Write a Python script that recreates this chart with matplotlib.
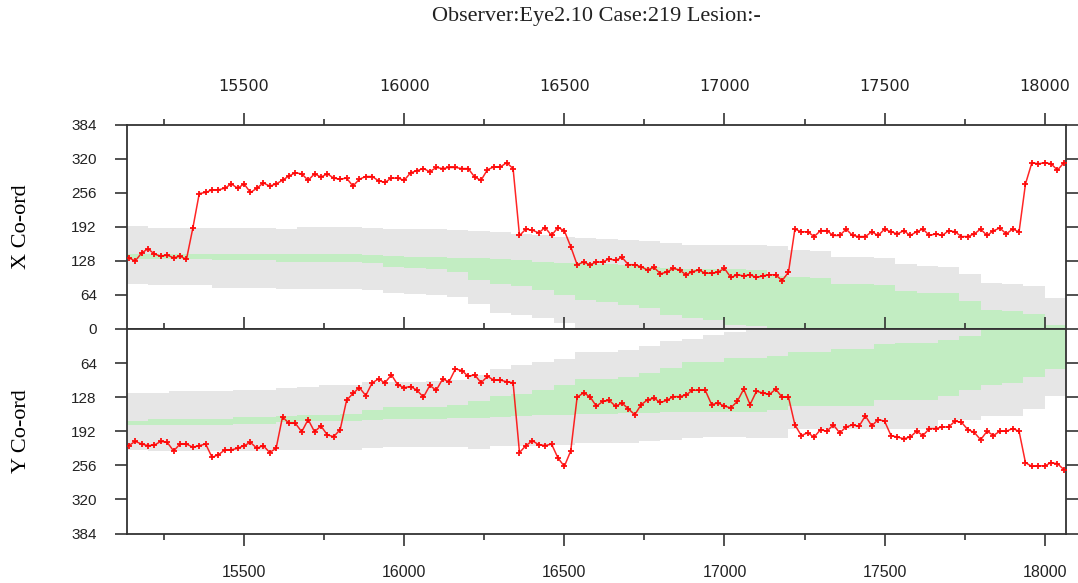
import numpy as np
import matplotlib
matplotlib.use('Agg')
import matplotlib.pyplot as plt
from matplotlib.ticker import MultipleLocator

# gaze samples, one every 20 ms
sample_start = 15140
sample_step = 20
x_coord = [134, 128, 143, 151, 141, 137, 139, 134, 137, 131,
           190, 255, 257, 262, 262, 265, 273, 265, 273, 257,
           265, 275, 269, 273, 280, 288, 294, 292, 280, 292,
           286, 292, 284, 282, 284, 269, 282, 287, 287, 279,
           276, 284, 284, 280, 294, 298, 302, 296, 304, 302,
           304, 304, 302, 302, 286, 280, 300, 305, 305, 313,
           302, 176, 188, 186, 181, 191, 176, 191, 185, 155,
           121, 126, 121, 126, 126, 132, 129, 135, 121, 121,
           117, 111, 116, 104, 107, 114, 111, 102, 108, 111,
           105, 105, 107, 114, 97, 102, 100, 102, 97, 100,
           102, 102, 91, 107, 188, 183, 183, 174, 185, 185,
           176, 176, 188, 176, 174, 174, 183, 176, 188, 183,
           179, 185, 176, 183, 188, 176, 179, 176, 185, 183,
           174, 174, 179, 188, 176, 185, 190, 179, 188, 183,
           273, 313, 311, 313, 311, 299, 313]
y_coord = [219, 211, 216, 219, 218, 211, 213, 229, 216, 216,
           222, 219, 216, 241, 236, 227, 227, 224, 219, 213,
           224, 219, 232, 224, 165, 177, 177, 193, 170, 193,
           182, 199, 202, 189, 134, 121, 110, 125, 101, 94,
           101, 86, 105, 110, 108, 115, 128, 106, 115, 94,
           99, 75, 78, 89, 86, 101, 89, 96, 96, 99,
           101, 232, 219, 210, 217, 219, 216, 242, 258, 229,
           128, 120, 127, 145, 136, 134, 145, 139, 150, 161,
           142, 133, 130, 138, 134, 127, 127, 124, 115, 115,
           115, 142, 139, 145, 148, 136, 113, 142, 117, 120,
           123, 113, 128, 128, 180, 200, 195, 203, 189, 192,
           180, 195, 184, 180, 183, 163, 182, 170, 173, 200,
           203, 206, 203, 192, 200, 187, 187, 184, 184, 173,
           175, 189, 194, 208, 192, 200, 192, 192, 187, 192,
           251, 258, 257, 257, 251, 253, 264]

# expected region per video frame (frames 227..270, 15 frames/s)
first_frame = 227
frame_ms = 200 / 3
x_grey_lo = [85, 82, 82, 82, 78, 78, 78, 76, 76, 76, 76, 73, 68, 65, 64,
             61, 47, 31, 27, 20, 11, 0, 0, 0, 0, 0, 0, 0, 0, 0,
             0, 0, 0, 0, 0, 0, 0, 0, 0, 0, 0, 0, 0, 0]
x_grey_hi = [194, 191, 191, 191, 190, 190, 190, 189, 192, 192, 192, 190, 188, 189, 189,
             187, 184, 182, 179, 177, 174, 172, 169, 167, 165, 161, 159, 159, 159, 158,
             156, 149, 146, 136, 136, 133, 122, 119, 116, 103, 87, 85, 80, 58]
x_green_lo = [132, 132, 132, 132, 130, 130, 130, 127, 127, 127, 127, 124, 116, 114, 113,
              108, 92, 84, 80, 74, 64, 54, 51, 46, 39, 26, 20, 17, 8, 6,
              0, 0, 0, 0, 0, 0, 0, 0, 0, 0, 0, 0, 0, 0]
x_green_hi = [142, 142, 142, 142, 142, 142, 142, 142, 142, 142, 142, 139, 137, 136, 136,
              134, 133, 131, 129, 127, 125, 124, 122, 120, 117, 114, 113, 113, 113, 111,
              100, 98, 96, 84, 84, 82, 71, 68, 68, 52, 36, 34, 29, 8]
y_grey_lo = [121, 120, 117, 117, 117, 114, 114, 111, 108, 106, 106, 100, 100, 99, 98,
             96, 86, 75, 67, 62, 56, 44, 44, 40, 32, 23, 18, 12, 6, 0,
             0, 0, 0, 0, 0, 0, 0, 0, 0, 0, 0, 0, 0, 0]
y_grey_hi = [228, 230, 230, 230, 230, 230, 230, 228, 228, 227, 227, 224, 222, 222, 222,
             222, 225, 219, 219, 219, 217, 215, 214, 214, 211, 208, 205, 202, 202, 205,
             205, 188, 188, 188, 188, 188, 188, 188, 170, 170, 164, 164, 150, 125]
y_green_lo = [172, 169, 169, 169, 169, 165, 165, 163, 161, 161, 159, 153, 146, 146, 146,
              142, 136, 125, 123, 114, 106, 94, 94, 90, 82, 73, 62, 62, 54, 54,
              51, 43, 43, 37, 37, 29, 27, 27, 21, 14, 0, 0, 0, 0]
y_green_hi = [180, 180, 180, 180, 180, 178, 178, 175, 172, 172, 172, 170, 169, 169, 169,
              168, 168, 165, 164, 162, 161, 160, 159, 158, 157, 156, 156, 155, 155, 156,
              153, 144, 144, 144, 144, 133, 133, 133, 126, 115, 105, 101, 90, 76]

title = 'Observer:Eye2.10 Case:219 Lesion:-'

t = sample_start + sample_step * np.arange(len(x_coord))
edges = (first_frame + np.arange(len(x_grey_lo) + 1)) * frame_ms

grey = '#e6e6e6'
green = '#c2edc2'
ink = '#333333'

fig = plt.figure(figsize=(10.78, 5.83), dpi=100)
ax1 = fig.add_axes([0.1175, 0.4357, 0.8714, 0.3499])
ax2 = fig.add_axes([0.1175, 0.0849, 0.8714, 0.3508])


def band(ax, lo, hi, color):
    lo = np.append(lo, lo[-1])
    hi = np.append(hi, hi[-1])
    ax.fill_between(edges, lo, hi, step='post', color=color, lw=0, zorder=1)


band(ax1, x_grey_lo, x_grey_hi, grey)
band(ax1, x_green_lo, x_green_hi, green)
band(ax2, y_grey_lo, y_grey_hi, grey)
band(ax2, y_green_lo, y_green_hi, green)

for ax, vals in [(ax1, x_coord), (ax2, y_coord)]:
    ax.plot(t, vals, color='#ff0000', lw=1.1, alpha=0.85, marker='P',
            ms=3.8, mew=0, zorder=3)
    ax.set_xlim(edges[0], edges[-1])
    ax.xaxis.set_major_locator(MultipleLocator(500))
    ax.xaxis.set_minor_locator(MultipleLocator(250))
    ax.set_yticks([0, 64, 128, 192, 256, 320, 384])
    for s in ax.spines.values():
        s.set_color(ink)
        s.set_linewidth(1.3)
    ax.tick_params(axis='both', which='major', direction='out', length=8.5,
                   width=1.2, color=ink, labelcolor='#222222')
    ax.tick_params(axis='both', which='minor', direction='out', length=4.3,
                   width=1.2, color=ink)
    ax.tick_params(axis='x', labelsize=11.5, pad=14)
    ax.tick_params(axis='y', labelsize=11, pad=13, left=True, right=True,
                   labelleft=True, labelright=False)
    for lab in ax.get_xticklabels() + ax.get_yticklabels():
        lab.set_family('Liberation Sans')

ax1.set_ylim(0, 384)
ax1.tick_params(axis='x', which='both', top=True, bottom=False,
                labeltop=True, labelbottom=False)

ax2.set_ylim(384, 0)
ax2.set_yticks([64, 128, 192, 256, 320, 384])
ax2.tick_params(axis='x', which='both', top=True, bottom=True,
                labeltop=False, labelbottom=True)

ax1.set_ylabel('X Co-ord', family='Liberation Serif', fontsize=16)
ax2.set_ylabel('Y Co-ord', family='Liberation Serif', fontsize=16)
ax1.yaxis.set_label_coords(-0.102, 0.5)
ax2.yaxis.set_label_coords(-0.102, 0.5)

fig.text(596 / 1078, 1 - 17 / 583, title, ha='center', va='center',
         family='Liberation Serif', fontsize=16, color='#222222')

fig.savefig('out.png', dpi=100)
